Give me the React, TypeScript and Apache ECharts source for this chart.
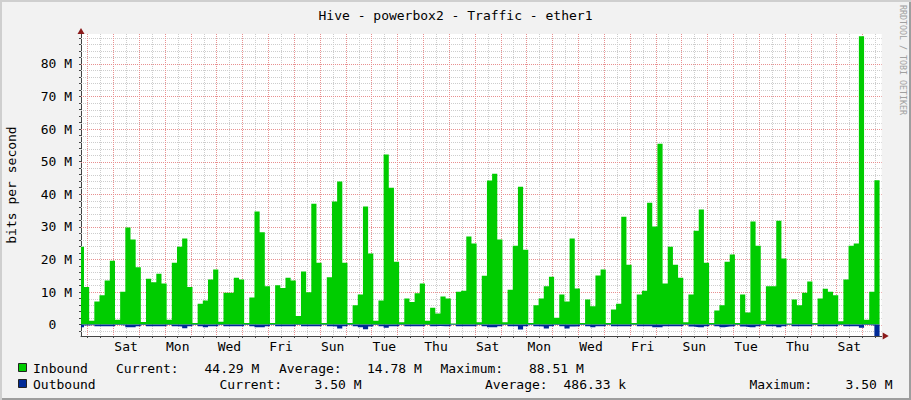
import React, { useEffect, useRef } from 'react';
import * as echarts from 'echarts';

// ---------- texts ----------
const TITLE = 'Hive - powerbox2 - Traffic - ether1';
const Y_AXIS_TITLE = 'bits per second';
const WATERMARK = 'RRDTOOL / TOBI OETIKER';

// ---------- sampling (time in days from the first midnight shown) ----------
const FIRST_SAMPLE_DAY = -0.328;
const SAMPLE_STEP_DAY = 0.2;

// Inbound traffic per sample, Mbit/s
const inboundMbps = [
  23.9, 11.5, 1.2, 7.1, 9.0, 13.5, 19.6, 1.5, 10.1, 29.8,
  26.1, 17.6, 0.8, 14.1, 13.0, 15.6, 12.6, 1.5, 19.0, 23.9,
  26.4, 11.5, 0.5, 6.4, 7.4, 13.8, 16.9, 0.9, 9.8, 9.8,
  14.4, 13.8, 0.5, 8.3, 34.7, 28.3, 11.8, 0.5, 12.1, 11.2,
  14.4, 13.5, 2.6, 16.3, 9.9, 37.1, 19.0, 0.5, 14.5, 37.8,
  43.9, 19.0, 0.5, 5.9, 9.2, 36.2, 21.8, 1.2, 7.4, 52.2,
  42.0, 19.3, 0.7, 8.0, 6.9, 9.6, 12.6, 1.2, 5.2, 3.4,
  8.6, 8.0, 0.3, 10.1, 10.4, 27.0, 24.9, 0.7, 15.0, 44.2,
  46.3, 26.1, 0.7, 10.7, 24.2, 42.3, 23.0, 0.5, 5.9, 8.0,
  11.8, 14.7, 2.1, 9.2, 7.1, 26.4, 11.1, 0.5, 7.7, 5.6,
  15.1, 16.9, 0.5, 4.6, 6.4, 33.1, 18.4, 0.5, 9.2, 10.4,
  37.4, 30.1, 55.5, 12.6, 23.9, 18.4, 14.4, 0.7, 9.2, 28.8,
  35.3, 19.0, 0.5, 4.3, 5.9, 19.3, 21.5, 0.5, 9.2, 3.7,
  31.6, 24.2, 1.2, 11.8, 11.8, 31.9, 20.3, 0.3, 7.7, 5.9,
  9.8, 13.2, 0.5, 8.0, 11.0, 10.1, 9.0, 1.0, 13.8, 24.2,
  24.9, 88.5, 1.5, 10.1, 44.3,
];

// Outbound traffic per sample, Mbit/s (drawn below zero)
const outboundMbps = [
  0.8, 0.3, 0.1, 0.5, 0.5, 0.5, 0.5, 0.1, 0.3, 0.8,
  0.8, 0.5, 0.1, 0.5, 0.5, 0.5, 0.5, 0.1, 0.5, 0.6,
  1.1, 0.5, 0.1, 0.5, 0.8, 0.5, 0.5, 0.1, 0.5, 0.5,
  0.5, 0.5, 0.1, 0.5, 0.8, 0.8, 0.5, 0.1, 0.5, 0.5,
  0.5, 0.5, 0.1, 0.5, 0.5, 0.5, 0.5, 0.1, 0.5, 0.6,
  1.2, 0.5, 0.1, 0.5, 0.8, 1.4, 0.6, 0.1, 0.5, 1.0,
  0.5, 0.5, 0.1, 0.5, 0.5, 0.5, 0.5, 0.1, 0.5, 0.4,
  0.5, 0.5, 0.1, 0.5, 0.5, 0.5, 0.5, 0.1, 0.5, 0.8,
  0.8, 0.5, 0.1, 0.5, 0.5, 1.5, 0.5, 0.1, 0.5, 0.6,
  1.2, 0.5, 0.1, 0.5, 1.2, 0.6, 0.5, 0.1, 0.5, 0.8,
  0.5, 0.5, 0.1, 0.5, 0.5, 0.5, 0.5, 0.1, 0.5, 0.5,
  0.5, 0.8, 0.8, 0.5, 0.5, 0.5, 0.5, 0.1, 0.6, 0.8,
  0.8, 0.5, 0.1, 0.5, 0.8, 0.6, 0.5, 0.1, 0.6, 0.8,
  0.8, 0.5, 0.1, 0.5, 0.5, 0.8, 0.5, 0.1, 0.5, 0.5,
  0.5, 0.5, 0.1, 0.5, 0.5, 0.5, 0.5, 0.1, 0.5, 0.5,
  0.5, 1.0, 0.1, 0.3, 3.5,
];

// ---------- axis ticks ----------
const xTickLabels = ['Sat', 'Mon', 'Wed', 'Fri', 'Sun', 'Tue', 'Thu', 'Sat', 'Mon', 'Wed', 'Fri', 'Sun', 'Tue', 'Thu', 'Sat'];
const xTickLabelDays = [1.5, 3.5, 5.5, 7.5, 9.5, 11.5, 13.5, 15.5, 17.5, 19.5, 21.5, 23.5, 25.5, 27.5, 29.5];
const yTickValues = [0, 10e6, 20e6, 30e6, 40e6, 50e6, 60e6, 70e6, 80e6];
const yTickLabels = ['0', '10 M', '20 M', '30 M', '40 M', '50 M', '60 M', '70 M', '80 M'];

// ---------- legend ----------
const legendNames = ['Inbound', 'Outbound'];
const inboundStats = ['Current:', '44.29 M', 'Average:', '14.78 M', 'Maximum:', '88.51 M'];
const outboundStats = ['Current:', '3.50 M', 'Average:', '486.33 k', 'Maximum:', '3.50 M'];

// ---------- scale ----------
const X_MIN = -0.244;
const X_MAX = 30.755;
const Y_MIN = -3.5e6;
const Y_MAX = 89.17e6;
const Y_MINOR_STEP = 2e6;
const Y_MAJOR_STEP = 10e6;

// ---------- styles ----------
const MONO = '"DejaVu Sans Mono", monospace';
const GREEN = '#00CC00';
const BLUE = '#002A97';
const MINOR_GRID = '#CDCDCD';
const MAJOR_GRID = '#E89090';
const AXIS = '#444444';
const ARROW = '#8B1A1A';

const inboundStatX = [116, 204.5, 279, 367, 440.5, 529];
const outboundStatX = [219.5, 314.5, 485, 563.5, 749.5, 845.5];

function buildSeriesData(values: number[], sign: number) {
  const pts: [number, number][] = values.map((v, i) => [FIRST_SAMPLE_DAY + SAMPLE_STEP_DAY * i, sign * v * 1e6]);
  const last = values[values.length - 1];
  pts.push([FIRST_SAMPLE_DAY + SAMPLE_STEP_DAY * values.length, sign * last * 1e6]);
  return pts;
}

function gridSeries(points: [number, number][], vertical: boolean, color: string, z: number) {
  return {
    type: 'custom', xAxisIndex: 0, yAxisIndex: 0, z, silent: true, clip: false,
    data: points,
    renderItem: (params: any, api: any) => {
      const cs = params.coordSys;
      const p = api.coord([api.value(0), api.value(1)]);
      const style = { stroke: color, lineWidth: 1, lineDash: [1, 1], fill: null };
      if (vertical) {
        const x = Math.round(p[0]) + 0.5;
        return { type: 'line', silent: true, shape: { x1: x, y1: cs.y, x2: x, y2: cs.y + cs.height }, style };
      }
      const y = Math.round(p[1]) + 0.5;
      return { type: 'line', silent: true, shape: { x1: cs.x, y1: y, x2: cs.x + cs.width, y2: y }, style };
    },
  };
}

export default function App() {
  const ref = useRef<HTMLDivElement>(null);

  useEffect(() => {
    document.body.style.margin = '0';
    if (!ref.current) return;
    const chart = echarts.init(ref.current, undefined, { renderer: 'svg' });

    const minorXs: number[] = [];
    const majorXs: number[] = [];
    for (let d = Math.ceil(X_MIN - 0.5) + 0.5; d <= X_MAX; d += 1) if (d >= X_MIN) minorXs.push(d);
    for (let d = Math.ceil(X_MIN); d <= X_MAX; d += 1) majorXs.push(d);
    const minorYs: number[] = [];
    const majorYs: number[] = [];
    for (let v = Math.ceil(Y_MIN / Y_MINOR_STEP) * Y_MINOR_STEP; v <= Y_MAX; v += Y_MINOR_STEP) {
      if (Math.abs(v % Y_MAJOR_STEP) < 1) majorYs.push(v);
      else minorYs.push(v);
    }
    const allXTicks = [...minorXs, ...majorXs].sort((a, b) => a - b);
    const allYTicks = [...minorYs, ...majorYs].sort((a, b) => a - b);

    const textStyle = { fontFamily: MONO, fontSize: 13, color: '#000' };

    const graphic: any[] = [
      { type: 'text', x: 455.5, y: 15, silent: true, style: { text: TITLE, font: `13px ${MONO}`, fill: '#000', align: 'center', verticalAlign: 'middle' } },
      { type: 'text', x: 11, y: 185, rotation: Math.PI / 2, silent: true, style: { text: Y_AXIS_TITLE, font: `13px ${MONO}`, fill: '#000', align: 'center', verticalAlign: 'middle' } },
      { type: 'text', x: 903, y: 60, rotation: -Math.PI / 2, silent: true, style: { text: WATERMARK, font: `8.3px ${MONO}`, fill: '#A0A0A0', align: 'center', verticalAlign: 'middle' } },
    ];
    const rowY = [368, 384];
    const rowColors = [GREEN, BLUE];
    const rowStats = [inboundStats, outboundStats];
    const rowStatX = [inboundStatX, outboundStatX];
    rowY.forEach((y, r) => {
      graphic.push({ type: 'rect', silent: true, shape: { x: 18.5, y: y - 4.5, width: 8, height: 8 }, style: { fill: rowColors[r], stroke: '#222', lineWidth: 1 } });
      graphic.push({ type: 'text', x: 33, y, silent: true, style: { text: legendNames[r], font: `13px ${MONO}`, fill: '#000', align: 'left', verticalAlign: 'middle' } });
      rowStats[r].forEach((t, i) => {
        graphic.push({ type: 'text', x: rowStatX[r][i], y, silent: true, style: { text: t, font: `13px ${MONO}`, fill: '#000', align: 'left', verticalAlign: 'middle' } });
      });
    });

    const option: any = {
      animation: false,
      backgroundColor: 'transparent',
      grid: { left: 81, top: 34, width: 800.7, height: 302, show: true, backgroundColor: '#FFFFFF', borderWidth: 0 },
      xAxis: [
        {
          type: 'value', min: X_MIN, max: X_MAX,
          axisLine: { show: true, onZero: false, lineStyle: { color: AXIS, width: 1 } },
          axisTick: { show: true, length: 2, customValues: allXTicks, lineStyle: { color: AXIS } },
          axisLabel: {
            ...textStyle, margin: 4, customValues: xTickLabelDays,
            formatter: (v: number) => {
              const i = xTickLabelDays.findIndex((d) => Math.abs(d - v) < 1e-6);
              return i >= 0 ? xTickLabels[i] : '';
            },
          },
          splitLine: { show: false },
        },
        {
          type: 'value', min: X_MIN, max: X_MAX, position: 'bottom',
          axisLine: { show: true, onZero: false, symbol: ['none', 'triangle'], symbolSize: [7, 6], symbolOffset: [0, 4], lineStyle: { color: ARROW, width: 0 } },
          axisTick: { show: false }, axisLabel: { show: false }, splitLine: { show: false },
        },
      ],
      yAxis: [
        {
          type: 'value', min: Y_MIN, max: Y_MAX,
          axisLine: { show: true, onZero: false, lineStyle: { color: AXIS, width: 1 } },
          axisTick: { show: true, length: 2, customValues: allYTicks, lineStyle: { color: AXIS } },
          axisLabel: {
            ...textStyle, margin: 9, customValues: yTickValues,
            formatter: (v: number) => {
              const i = yTickValues.findIndex((d) => Math.abs(d - v) < 1);
              if (i < 0) return '';
              const s = yTickLabels[i];
              return s.indexOf('M') >= 0 ? s : `{z|${s}}`;
            },
            rich: { z: { fontFamily: MONO, fontSize: 13, color: '#000', padding: [0, 15.7, 0, 0] } },
          },
          splitLine: { show: false },
        },
        {
          type: 'value', min: Y_MIN, max: Y_MAX, position: 'left',
          axisLine: { show: true, onZero: false, symbol: ['none', 'triangle'], symbolSize: [7, 6], symbolOffset: [0, 3], lineStyle: { color: ARROW, width: 0 } },
          axisTick: { show: false }, axisLabel: { show: false }, splitLine: { show: false },
        },
      ],
      series: [
        gridSeries(minorXs.map((v) => [v, 0] as [number, number]), true, MINOR_GRID, 1),
        gridSeries(minorYs.map((v) => [0, v] as [number, number]), false, MINOR_GRID, 1),
        gridSeries(majorXs.map((v) => [v, 0] as [number, number]), true, MAJOR_GRID, 1.5),
        gridSeries(majorYs.map((v) => [0, v] as [number, number]), false, MAJOR_GRID, 1.5),
        {
          type: 'line', name: legendNames[0], xAxisIndex: 0, yAxisIndex: 0, z: 3, silent: true,
          step: 'end', data: buildSeriesData(inboundMbps, 1), symbol: 'none', showSymbol: false,
          itemStyle: { color: GREEN }, lineStyle: { width: 0, color: GREEN }, areaStyle: { color: GREEN, opacity: 1 },
        },
        {
          type: 'line', name: legendNames[1], xAxisIndex: 0, yAxisIndex: 0, z: 3, silent: true,
          step: 'end', data: buildSeriesData(outboundMbps, -1), symbol: 'none', showSymbol: false,
          itemStyle: { color: BLUE }, lineStyle: { width: 0, color: BLUE }, areaStyle: { color: BLUE, opacity: 1 },
        },
      ],
      graphic,
    };

    chart.setOption(option);
    return () => chart.dispose();
  }, []);

  return (
    <div
      style={{
        position: 'relative', width: 911, height: 400, background: '#F2F2F2',
        boxShadow: 'inset 2px 2px 0 #CFCFCF, inset -2px -2px 0 #9E9E9E',
      }}
    >
      <div ref={ref} style={{ position: 'absolute', left: 0, top: 0, width: 911, height: 400 }} />
    </div>
  );
}
